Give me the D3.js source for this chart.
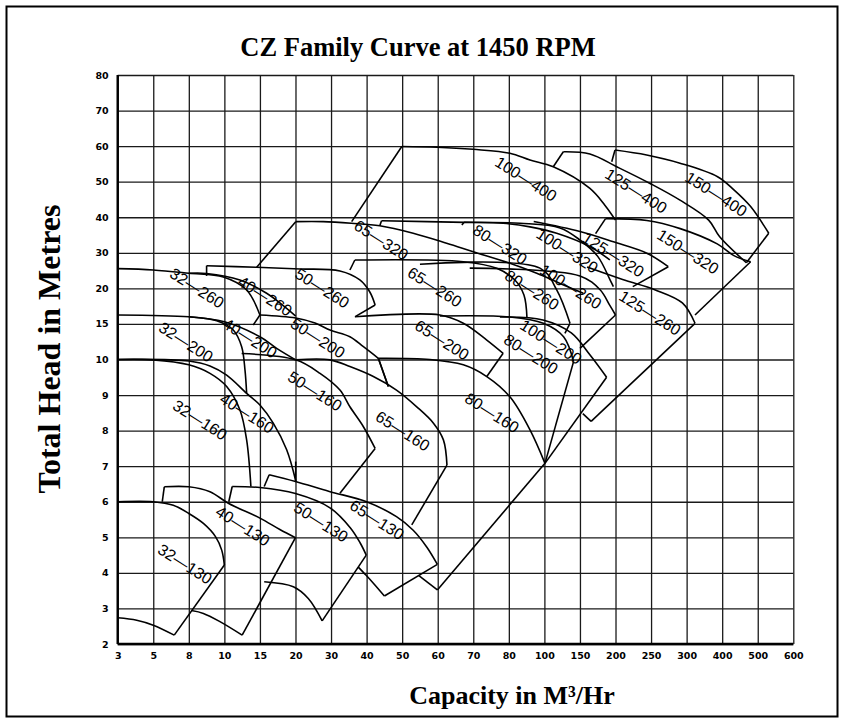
<!DOCTYPE html>
<html><head><meta charset="utf-8">
<script src="https://cdnjs.cloudflare.com/ajax/libs/d3/7.8.5/d3.min.js"></script>
<style>body{margin:0;background:#fff}</style>
</head><body>
<script>
const xTicks = [3,5,8,10,15,20,30,40,50,60,70,80,100,150,200,250,300,400,500,600];
const yTicks = [80,70,60,50,40,30,20,15,10,9,8,7,6,5,4,3,2];

// each model: list of polylines [Q (m3/h), H (m)]
const c32_130 = [[[3,6],[5,6],[6.69,5.9],[8,5.67],[8.82,5.39],[9.5,5.02],[9.85,4.64],[10,4.22]],[[10,4.22],[6.77,2.25]],[[6.77,2.25],[5,2.53],[4.07,2.67],[3,2.74]]];
const c40_130 = [[[5.76,6.0],[5.93,6.42]],[[5.93,6.42],[8,6.42],[9.19,6.28],[10.62,5.95],[15,5.54],[17.8,5.22],[20,4.99]],[[20,4.99],[12.5,2.25]],[[12.5,2.25],[9.75,2.63],[8.82,2.86],[8.15,2.94]]];
const c50_130 = [[[10.62,6.0],[11.1,6.43]],[[11.1,6.43],[15,6.4],[20,6.23],[29.7,5.83],[35.4,5.27],[38.2,4.84],[39.9,4.5]],[[39.9,4.5],[27.5,2.65]],[[27.5,2.65],[23.6,3.28],[19.7,3.61],[15.6,3.75]]];
const c65_130 = [[[15.6,6.43],[16.3,6.76]],[[16.3,6.76],[20,6.57],[29.5,6.29],[40,6.0],[48.4,5.58],[53.1,5.2],[56.9,4.73],[59.9,4.24]],[[59.9,4.24],[45,3.35]],[[45,3.35],[41.9,3.71],[39.8,3.94],[37.6,4.17]]];
const c32_160 = [[[3,10],[5,9.99],[8,9.85],[9.19,9.61],[10.32,9.24],[12.19,8.58],[13.13,7.74],[13.73,6.43]]];
const c40_160 = [[[3,10],[8,9.96],[9.19,9.82],[10.32,9.56],[13.13,9.05],[15,8.72],[16.87,8.21],[18.76,7.46],[20.06,6.59]],[[20.06,7.13],[20.06,6.57]]];
const c50_160 = [[[12.43,10.84],[20.06,9.99],[26.9,9.61],[32.5,9.14],[35.3,8.67],[39.1,8.11],[42.4,7.5]],[[42.4,7.5],[32.5,6.24]]];
const c65_160 = [[[20.06,9.99],[29.7,9.99],[35.3,9.8],[41.9,9.52],[48.4,9.14],[54.1,8.67],[58.8,8.21],[61.6,7.74],[62.6,7.03]],[[62.6,7.03],[52.7,5.35]]];
const c80_160 = [[[46.1,9.24],[43.3,10.17]],[[43.3,10.17],[57.8,10.0],[67.2,9.85],[73.8,9.52],[80.6,8.95],[91.9,8.02],[100.8,7.08]],[[100.8,7.08],[59.9,3.52]],[[59.9,3.52],[54.7,3.92]]];
const c32_200 = [[[3,16.26],[8,16.0],[9.57,15.45],[11.25,14.15],[12.43,11.8],[12.9,9.7],[13.13,9.05]]];
const c40_200 = [[[8,16.02],[10,15.31],[15,13.2],[17.35,11.57],[20.06,9.99]]];
const c50_200 = [[[15,16.26],[20.06,15.84],[25.5,15.13],[29.7,14.14],[35.3,13.2],[39.1,11.8],[43.3,10.17]],[[43.3,10.17],[46.1,9.24]]];
const c65_200 = [[[36.7,16.02],[60.6,16.26],[67.2,15.1],[73.8,12.74],[78.4,10.87]],[[78.4,10.87],[73.8,9.52]]];
const c80_200 = [[[60.6,16.12],[80.6,15.98],[99.4,15.1],[127,13.2],[141,9.94]],[[141,9.94],[100.8,7.08]]];
const c100_200 = [[[77.5,15.98],[99.2,15.56],[137.8,13.73],[164.2,10.63],[187.5,9.5]],[[187.5,9.5],[100.8,7.08]]];
const c32_260 = [[[3,25.54],[5,25.17],[8,24.25],[9.94,23.2],[13.13,19.78],[15,16.26]],[[15,16.26],[14.06,14.85]]];
const c40_260 = [[[8,24.25],[9,24.2],[12.19,22.36],[15.94,19.31],[17.8,17.95],[20.06,16.1]]];
const c50_260 = [[[9,23.49],[9,26.38]],[[9,26.38],[14.54,25.93],[21.3,25.46],[32.5,24.89],[38.1,22.36],[40.9,19.49],[42.4,17.67]],[[42.4,17.67],[36.8,16.02]]];
const c65_260 = [[[35.3,25.17],[36.7,27.98]],[[36.7,27.98],[67.2,27.5],[76.6,25.65],[83.4,22.36],[88.5,19.07],[90.2,15.83]]];
const c80_260 = [[[55,26.8],[97.5,25.7],[117.3,19.78],[136,15.09]],[[136,15.09],[128.8,13.68]]];
const c100_260 = [[[69,25.7],[150,23.5],[178.3,19.8],[192,17.6],[200,16.26]],[[200,16.26],[150,11.57]]];
const c125_260 = [[[160,26],[210,22.5],[256,19.78],[294,17.95],[323.6,15.09]],[[323.6,15.09],[165.7,8.26]],[[165.7,8.26],[154,8.48]]];
const c65_320 = [[[14.54,25.93],[20.06,38.76]],[[20.06,38.76],[27.8,38.76],[35.7,38.3],[43.7,37.6],[53.1,35.5],[62.5,32.7],[70,30.3],[80.6,27.06],[95.7,24.25],[122,21.4],[154.7,19.31]]];
const c80_320 = [[[43.7,37.6],[44.2,39.0]],[[44.2,39.0],[67.6,38.56],[78.4,38.3],[91.9,37.3],[117.3,35.5],[164.2,31.7],[192,28]]];
const c100_320 = [[[66.8,37.8],[67.4,38.6]],[[67.4,38.6],[86.3,38.3],[122,37],[150,33.6],[175,29],[192.3,22.4],[197,20.5]]];
const c125_320 = [[[94,38.8],[150,36.0],[197,33.1],[244,29.9],[274.2,26.1]],[[274.2,26.1],[224.3,20.5]]];
const c150_320 = [[[172,35.4],[186,39.6]],[[186,39.6],[244,39.1],[291,36.8],[386,32.5],[433,29.2],[480,27.5]],[[480,27.5],[323.6,16.26]]];
const c100_400 = [[[35.8,38.76],[49.9,59.9]],[[49.9,59.9],[59.8,59.7],[70,59.1],[80.6,58.0],[91.9,56.1],[112.5,54.2],[164,48.1],[185,43.4],[200,39.2]]];
const c125_400 = [[[112.5,54.2],[126.6,58.4]],[[126.6,58.4],[164,57.8],[201.7,54.2],[248.6,49.5],[290.7,44.8],[362,39.2],[393,34.5],[468,27.2]]];
const c150_400 = [[[194.7,55.6],[199.3,58.9]],[[199.3,58.9],[243.8,57.5],[290.7,55.2],[387,51.4],[433,47.7],[480,43.0],[531,35.5]],[[531,35.5],[468,27.2]]];

const curveSets = [c32_130,c40_130,c50_130,c65_130,c32_160,c40_160,c50_160,c65_160,c80_160,
  c32_200,c40_200,c50_200,c65_200,c80_200,c100_200,c32_260,c40_260,c50_260,c65_260,c80_260,c100_260,c125_260,
  c65_320,c80_320,c100_320,c125_320,c150_320,c100_400,c125_400,c150_400];

const labelNames = ["32—130","40—130","50—130","65—130","32—160","40—160","50—160","65—160","80—160",
  "32—200","40—200","50—200","65—200","80—200","100—200","32—260","40—260","50—260","65—260","80—260","100—260","125—260",
  "65—320","80—320","100—320","125—320","150—320","100—400","125—400","150—400"];
const labelQ = [7.67,12.6,27.2,42.9,8.63,13.17,25.5,50.2,75.3, 7.76,13.6,26.3,61.2,92.5,109.3, 8.46,15.7,27.5,59.2,93,137,248.6, 44.1,77.5,132,196.7,303.9, 89.7,229,383];
const labelH = [4.25,5.32,5.43,5.49,8.3,8.49,9.11,7.99,8.5, 12.46,13.0,13.02,12.74,10.77,12.46, 20.1,18.93,20.06,20.4,19.78,20.5,16.54, 33.6,32.3,30.6,29.5,30.3, 50.8,47.4,46.5];

const W = 844, H = 722;
const x0 = 117.7, x1 = 793.3, y0 = 75, y1 = 644;
const svg = d3.select("body").append("svg").attr("width", W).attr("height", H)
  .style("font-family","'Liberation Sans', Arial, sans-serif");
svg.append("rect").attr("x",0).attr("y",0).attr("width",W).attr("height",H).attr("fill","#fff");
svg.append("rect").attr("x",6.5).attr("y",6.5).attr("width",831).attr("height",710)
  .attr("fill","none").attr("stroke","#000").attr("stroke-width",2);

const xs = (x1-x0)/(xTicks.length-1), ys = (y1-y0)/(yTicks.length-1);
const x = d3.scaleLinear().domain(xTicks).range(xTicks.map((d,i)=>x0+i*xs));
const y = d3.scaleLinear().domain(yTicks).range(yTicks.map((d,i)=>y0+i*ys));

const gx = svg.append("g").attr("transform",`translate(0,${y1})`)
  .call(d3.axisBottom(x).tickValues(xTicks).tickSize(-(y1-y0)).tickPadding(8).tickFormat(d3.format("d")));
const gy = svg.append("g").attr("transform",`translate(${x0},0)`)
  .call(d3.axisLeft(y).tickValues(yTicks).tickSize(-(x1-x0)).tickPadding(9).tickFormat(d3.format("d")));
[gx,gy].forEach(g=>{
  g.select(".domain").remove();
  g.selectAll(".tick line").attr("stroke","#1a1a1a").attr("stroke-width",1.3);
  g.selectAll(".tick text").attr("fill","#000").style("font-family","'DejaVu Sans', sans-serif")
    .style("font-weight","bold").style("font-size","9.5px");
});
gy.selectAll(".tick text").attr("dy","0.32em");
svg.append("line").attr("x1",x0).attr("x2",x0).attr("y1",y0).attr("y2",y1).attr("stroke","#000").attr("stroke-width",2.4);
svg.append("line").attr("x1",x0).attr("x2",x1).attr("y1",y1).attr("y2",y1).attr("stroke","#000").attr("stroke-width",2.4);

const line = d3.line().x(d=>x(d[0])).y(d=>y(d[1])).curve(d3.curveCatmullRom.alpha(0.5));
const gc = svg.append("g");
curveSets.forEach(set=>{
  set.forEach(pl=>{
    gc.append("path").attr("d",line(pl)).attr("fill","none").attr("stroke","#000").attr("stroke-width",1.6)
      .attr("stroke-linejoin","round");
  });
});

const gl = svg.append("g");
labelNames.forEach((t,i)=>{
  const px = x(labelQ[i]), py = y(labelH[i]);
  gl.append("text").attr("transform",`translate(${px},${py}) rotate(32.5)`)
    .attr("text-anchor","middle").attr("dy","0.35em")
    .style("font-size","16px").style("font-family","'Liberation Sans', Arial, sans-serif").text(t);
});

svg.append("text").attr("x",418).attr("y",56).attr("text-anchor","middle")
  .style("font-family","'Liberation Serif','Times New Roman',serif").style("font-weight","bold").style("font-size","26.5px")
  .text("CZ Family Curve at 1450 RPM");
svg.append("text").attr("transform","translate(60,349) rotate(-90)").attr("text-anchor","middle")
  .style("font-family","'Liberation Serif','Times New Roman',serif").style("font-weight","bold").style("font-size","32px")
  .text("Total Head in Metres");
svg.append("text").attr("x",512).attr("y",704).attr("text-anchor","middle")
  .style("font-family","'Liberation Serif','Times New Roman',serif").style("font-weight","bold").style("font-size","26px")
  .text("Capacity in M³/Hr");
</script>
</body></html>
